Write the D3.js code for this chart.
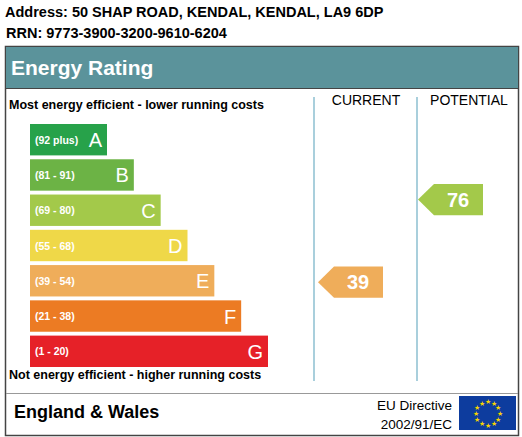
<!DOCTYPE html>
<html><head><meta charset="utf-8">
<script src="https://cdn.jsdelivr.net/npm/d3@7"></script>
<style>body{margin:0;background:#fff}svg{font-family:Arial,"Liberation Sans",sans-serif}</style>
</head><body><svg id="c" width="522" height="437"></svg>
<script>
// band data
const bands = ["A","B","C","D","E","F","G"];
const ranges = ["(92 plus)","(81 - 91)","(69 - 80)","(55 - 68)","(39 - 54)","(21 - 38)","(1 - 20)"];
const mins = [92,81,69,55,39,21,1];
const colors = ["#27a24a","#6cb345","#a3c94a","#efd848","#efad5a","#ec7b23","#e62128"];
const current = 39, potential = 76;

const svg = d3.select("#c");
svg.append("text").attr("x",5).attr("y",17).attr("font-size",14.5).attr("font-weight","bold").text("Address: 50 SHAP ROAD, KENDAL, KENDAL, LA9 6DP");
svg.append("text").attr("x",6).attr("y",38).attr("font-size",14.5).attr("font-weight","bold").text("RRN: 9773-3900-3200-9610-6204");

svg.append("rect").attr("x",5.5).attr("y",46.5).attr("width",513).attr("height",389).attr("fill","#fff").attr("stroke","#444").attr("stroke-width",1.5);
svg.append("rect").attr("x",6).attr("y",47).attr("width",512).attr("height",41).attr("fill","#5b939b");
svg.append("line").attr("x1",6).attr("x2",518).attr("y1",88.5).attr("y2",88.5).attr("stroke","#444");
svg.append("text").attr("x",11).attr("y",75).attr("font-size",21).attr("font-weight","bold").attr("fill","#fff").text("Energy Rating");

svg.append("text").attr("x",9).attr("y",109).attr("font-size",12.5).attr("font-weight","bold").text("Most energy efficient - lower running costs");
svg.append("text").attr("x",9).attr("y",379).attr("font-size",12.5).attr("font-weight","bold").text("Not energy efficient - higher running costs");
svg.append("text").attr("x",366).attr("y",105).attr("font-size",14).attr("text-anchor","middle").text("CURRENT");
svg.append("text").attr("x",469).attr("y",105).attr("font-size",14).attr("text-anchor","middle").text("POTENTIAL");
[314,417].forEach(x=>svg.append("line").attr("x1",x).attr("x2",x).attr("y1",97).attr("y2",381).attr("stroke","#a9cfdc").attr("stroke-width",2));

const y = d3.scaleBand().domain(bands).range([124,367]).paddingInner(0.11);
const w = d3.scaleLinear().domain([0,6]).range([77,238]);
const g = svg.selectAll(".band").data(bands).join("g");
g.append("rect").attr("x",30).attr("y",d=>y(d)).attr("width",(d,i)=>w(i)).attr("height",y.bandwidth()).attr("fill",(d,i)=>colors[i]);
g.append("text").attr("x",35).attr("y",d=>y(d)+y.bandwidth()/2+4).attr("font-size",10.5).attr("font-weight","bold").attr("fill","#fff").text((d,i)=>ranges[i]);
g.append("text").attr("x",(d,i)=>30+w(i)-5).attr("y",d=>y(d)+y.bandwidth()/2+7.5).attr("text-anchor","end").attr("font-size",20).attr("fill","#fff").text(d=>d);

// arrow position follows the value
const vy = d3.scaleLinear().domain([1,100]).range([367,146]);
function bandOf(v){return mins.findIndex(m=>v>=m);}
function arrow(v,x0){
  const i = bandOf(v), h = y.bandwidth(), t = vy(v)-h/2, ww = 65;
  svg.append("path").attr("d",`M${x0},${t+h/2}L${x0+16},${t}L${x0+ww},${t}L${x0+ww},${t+h}L${x0+16},${t+h}Z`).attr("fill",colors[i]);
  svg.append("text").attr("x",x0+40).attr("y",t+h/2+7).attr("text-anchor","middle").attr("font-size",20).attr("font-weight","bold").attr("fill","#fff").text(v);
}
arrow(current,318);
arrow(potential,418);

svg.append("line").attr("x1",6).attr("x2",518).attr("y1",393.5).attr("y2",393.5).attr("stroke","#999");
svg.append("text").attr("x",14).attr("y",418).attr("font-size",18).attr("font-weight","bold").text("England & Wales");
svg.append("text").attr("x",452).attr("y",410).attr("font-size",13.5).attr("text-anchor","end").text("EU Directive");
svg.append("text").attr("x",452).attr("y",429).attr("font-size",13.5).attr("text-anchor","end").text("2002/91/EC");
svg.append("rect").attr("x",459).attr("y",396).attr("width",57).attr("height",34).attr("fill","#0d3c9e");
d3.range(12).forEach(k=>{const a=k*Math.PI/6;svg.append("text").attr("x",487.5+12*Math.sin(a)).attr("y",413+3-12*Math.cos(a)).attr("font-size",7).attr("text-anchor","middle").attr("fill","#f5d400").text("★");});
</script></body></html>
